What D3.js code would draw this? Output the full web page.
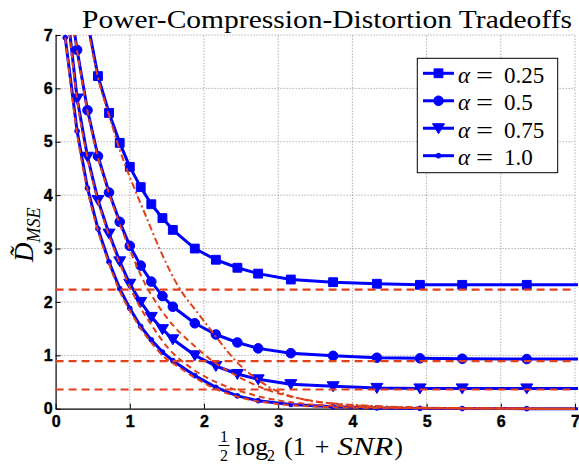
<!DOCTYPE html>
<html><head><meta charset="utf-8">
<script src="https://cdn.jsdelivr.net/npm/d3@7"></script>
<style>body{margin:0;background:#fff}svg{display:block}
.tk{font-family:'Liberation Sans',Arial,sans-serif;font-weight:bold;font-size:16px}</style>
</head><body>
<svg id="c" width="579" height="466"></svg>
<script>
// ---- data ----
const xTicks = [0,1,2,3,4,5,6,7];
const yTicks = [0,1,2,3,4,5,6,7];
const alphaLabels = ["0.25","0.5","0.75","1.0"];
const xPts = [0.13,0.29,0.43,0.571,0.72,0.864,1.0,1.147,1.29,1.44,1.58,1.876,2.16,2.45,2.73,3.17,3.74,4.33,4.91,5.48,6.35,7.5];
const dA025 = [11.0,8.9,7.25,6.23,5.54,4.98,4.53,4.15,3.83,3.57,3.35,3.0,2.79,2.64,2.53,2.42,2.37,2.34,2.32,2.32,2.32,2.32];
const dA050 = [8.2,6.72,5.59,4.73,4.05,3.50,3.05,2.68,2.38,2.11,1.91,1.60,1.39,1.24,1.13,1.04,0.99,0.955,0.944,0.936,0.93,0.93];
const dA075 = [7.8,5.81,4.72,3.91,3.28,2.76,2.34,2.0,1.72,1.49,1.30,1.0,0.80,0.65,0.55,0.46,0.42,0.39,0.38,0.38,0.38,0.38];
const dA100 = [6.95,5.2,4.13,3.37,2.75,2.25,1.88,1.54,1.29,1.06,0.9,0.62,0.40,0.24,0.15,0.08,0.035,0.015,0.006,0.003,0.001,0];

const rX025 = [0.29,0.43,0.571,0.72,0.864,1.04,1.22,1.40,1.65,1.94,2.15,2.33,2.51,2.73,2.91,3.32,3.72,4.17,5.0,6.0,7.0];
const rY025 = [8.6,7.2,6.2,5.5,4.85,4.2,3.6,3.0,2.3,1.75,1.37,1.05,0.78,0.54,0.38,0.18,0.1,0.06,0.02,0.005,0.0];
const rX050 = [0.13,0.29,0.43,0.571,0.72,0.864,1.0,1.1,1.22,1.34,1.56,1.876,2.15,2.45,2.8,3.16,3.7,4.3,5.0,6.0,7.0];
const rY050 = [8.2,6.7,5.57,4.71,4.03,3.46,2.98,2.65,2.3,2.02,1.6,1.17,0.86,0.61,0.38,0.23,0.1,0.04,0.015,0.004,0];
const rX075 = [0.13,0.29,0.43,0.571,0.72,0.864,1.0,1.147,1.29,1.52,1.83,2.19,2.51,2.9,3.3,3.8,4.5,5.5,7.0];
const rY075 = [7.8,5.79,4.7,3.89,3.25,2.72,2.28,1.88,1.57,1.13,0.76,0.48,0.32,0.18,0.1,0.05,0.02,0.005,0];
const rX100 = [0.13,0.29,0.43,0.571,0.72,0.864,1.0,1.147,1.29,1.44,1.67,1.9,2.21,2.57,3.0,3.5,4.2,5.0,7.0];
const rY100 = [6.95,5.15,4.1,3.33,2.72,2.2,1.84,1.5,1.24,1.0,0.77,0.56,0.34,0.18,0.09,0.04,0.015,0.005,0];
const asymptotes = [2.23,0.89,0.36];

// ---- setup ----
const BLUE = "#0000ff", RED = "#e0401a";
const serif = "'Liberation Serif', 'Times New Roman', serif";
const svg = d3.select("#c");
const x = d3.scaleLinear().domain([0,7]).range([55.6,575]);
const y = d3.scaleLinear().domain([0,7]).range([408.7,35]);

svg.append("defs").append("clipPath").attr("id","clip")
  .append("rect").attr("x",x(0)).attr("y",y(7)).attr("width",x(7)-x(0)+3).attr("height",y(0)-y(7)+2.5);

// grid
const grid = svg.append("g").attr("stroke","#8a8a8a").attr("stroke-width",1).attr("stroke-dasharray","1,2");
grid.selectAll("line.gx").data(xTicks.slice(1)).join("line")
  .attr("x1",d=>x(d)).attr("x2",d=>x(d)).attr("y1",y(0)).attr("y2",y(7));
grid.selectAll("line.gy").data(yTicks.slice(1)).join("line")
  .attr("y1",d=>y(d)).attr("y2",d=>y(d)).attr("x1",x(0)).attr("x2",x(7));

// axes
const gx = svg.append("g").attr("transform",`translate(0,${y(0)})`)
  .call(d3.axisBottom(x).tickValues(xTicks).tickFormat(d3.format("d")).tickSizeInner(-5).tickSizeOuter(0).tickPadding(7));
const gy = svg.append("g").attr("transform",`translate(${x(0)},0)`)
  .call(d3.axisLeft(y).tickValues(yTicks).tickFormat(d3.format("d")).tickSizeInner(-5).tickSizeOuter(0).tickPadding(3));
[gx,gy].forEach(g=>{
  g.attr("font-family",null).attr("font-size",null);
  g.select(".domain").attr("stroke","#000").attr("stroke-width",1.2);
  g.selectAll(".tick line").attr("stroke","#000");
  g.selectAll(".tick text").attr("class","tk").attr("fill","#000")
    .attr("stroke","#000").attr("stroke-width",0.4);
});

// blue series
const series = [
  {vals:dA025, mk:"square"},
  {vals:dA050, mk:"circle"},
  {vals:dA075, mk:"tri"},
  {vals:dA100, mk:"dot"}
];
const line = d3.line().x(d=>x(d[0])).y(d=>y(d[1]));
const plot = svg.append("g");
const sqSym = d3.symbol().type(d3.symbolSquare).size(78)();
const ciSym = d3.symbol().type(d3.symbolCircle).size(Math.PI*4.8*4.8)();
const triPath = "M-6,-4.5L6,-4.5L0,5.5Z";
const dotSym = d3.symbol().type(d3.symbolCircle).size(Math.PI*2.4*2.4)();
function markPath(mk){return mk==="square"?sqSym:mk==="circle"?ciSym:mk==="tri"?triPath:dotSym;}

series.forEach(s=>{
  const pts = xPts.map((xv,i)=>[xv,s.vals[i]]);
  plot.append("path").attr("clip-path","url(#clip)").attr("d",line(pts))
    .attr("fill","none").attr("stroke",BLUE).attr("stroke-width",3).attr("stroke-linejoin","round");
  plot.append("g").selectAll("path").data(pts.filter(p=>p[0]<=7&&p[1]<=7)).join("path")
    .attr("transform",p=>`translate(${x(p[0])},${y(p[1])})`)
    .attr("d",markPath(s.mk)).attr("fill",BLUE).attr("stroke",BLUE).attr("stroke-width",1);
});

// red dashed bounds
const redCurves = [
  {xs:rX025, ys:rY025, dash:"7,3,2,3"},
  {xs:rX050, ys:rY050, dash:"6,4"},
  {xs:rX075, ys:rY075, dash:"6,4"},
  {xs:rX100, ys:rY100, dash:"6,4"}
];
const smooth = d3.line().x(d=>x(d[0])).y(d=>y(d[1])).curve(d3.curveMonotoneX);
redCurves.forEach(c=>{
  plot.append("path").attr("clip-path","url(#clip)")
    .attr("d",smooth(c.xs.map((xv,i)=>[xv,c.ys[i]])))
    .attr("fill","none").attr("stroke",RED).attr("stroke-width",2).attr("stroke-dasharray",c.dash);
});
plot.selectAll("line.asym").data(asymptotes).join("line")
  .attr("x1",x(0)).attr("x2",x(7)).attr("y1",d=>y(d)).attr("y2",d=>y(d))
  .attr("stroke",RED).attr("stroke-width",2.2).attr("stroke-dasharray","8,5");

// legend
const lg = svg.append("g");
lg.append("rect").attr("x",417.3).attr("y",58.3).attr("width",140.4).attr("height",114.4)
  .attr("fill","#fff").attr("stroke","#000").attr("stroke-width",1);
const rowY = d3.scalePoint().domain(alphaLabels).range([73.3,155.7]);
alphaLabels.forEach((lab,i)=>{
  const cy = rowY(lab);
  lg.append("line").attr("x1",423).attr("x2",454).attr("y1",cy).attr("y2",cy)
    .attr("stroke",BLUE).attr("stroke-width",3);
  lg.append("path").attr("transform",`translate(438.5,${cy})`).attr("d",markPath(series[i].mk))
    .attr("fill",BLUE).attr("stroke",BLUE).attr("stroke-width",1);
  const t = lg.append("text").attr("y",cy+9.7).style("font-family",serif).style("font-size","23px");
  t.append("tspan").attr("x",458).style("font-style","italic").text("α");
  t.append("tspan").attr("x",476).attr("textLength",17).attr("lengthAdjust","spacingAndGlyphs").text("=");
  t.append("tspan").attr("x",504).text(lab);
});

// title
svg.append("text").attr("x",82).attr("y",28).attr("textLength",490).attr("lengthAdjust","spacingAndGlyphs")
  .style("font-family",serif).style("font-size","25px")
  .text("Power-Compression-Distortion Tradeoffs");

// x label
const xl = svg.append("g").style("font-family",serif);
xl.append("text").attr("x",224).attr("y",442).attr("text-anchor","middle").style("font-size","16px").text("1");
xl.append("line").attr("x1",218.5).attr("x2",229.5).attr("y1",445.5).attr("y2",445.5).attr("stroke","#000").attr("stroke-width",1);
xl.append("text").attr("x",224).attr("y",461).attr("text-anchor","middle").style("font-size","16px").text("2");
const xt = xl.append("text").attr("y",455).style("font-size","26px");
xt.append("tspan").attr("x",235).text("log");
xt.append("tspan").attr("x",267).attr("dy",6).style("font-size","16px").text("2");
xt.append("tspan").attr("x",284).attr("dy",-6).text("(1");
xt.append("tspan").attr("dx",9).text("+");
xt.append("tspan").attr("dx",8).attr("textLength",56).attr("lengthAdjust","spacingAndGlyphs").style("font-style","italic").text("SNR");
xt.append("tspan").attr("dx",1).text(")");

// y label
const yl = svg.append("text").attr("transform","translate(33,262) rotate(-90)")
  .style("font-family",serif).style("font-style","italic");
yl.append("tspan").style("font-size","27px").text("D\u0303");
yl.append("tspan").attr("dy",7).style("font-size","18px").text("MSE");
</script>
</body></html>
